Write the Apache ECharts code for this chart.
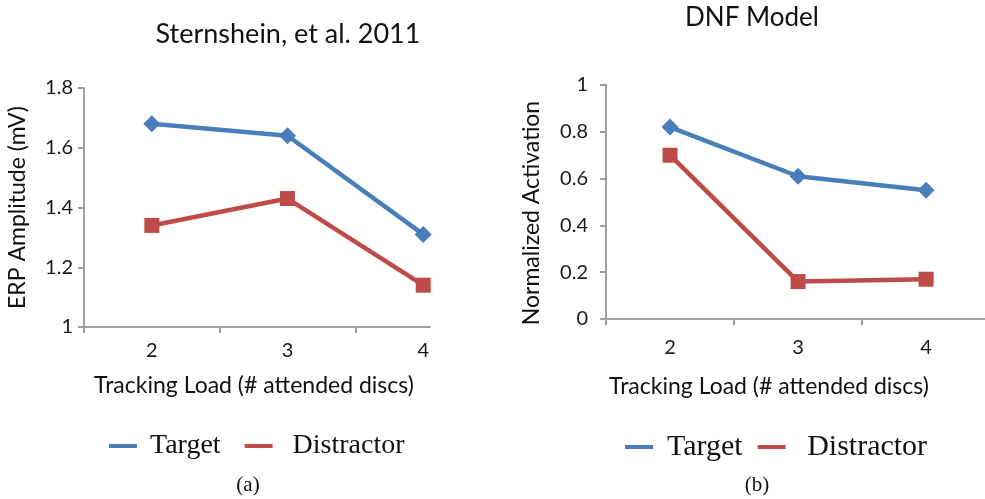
<!DOCTYPE html>
<html>
<head>
<meta charset="utf-8">
<script src="https://cdn.jsdelivr.net/npm/echarts@6/dist/echarts.min.js"></script>
<style>
html,body{margin:0;padding:0;background:#fff;}
#chart{width:985px;height:499px;}
</style>
</head>
<body>
<div id="chart"></div>
<script>
// ---- data ----
var loads = [2, 3, 4];
var ernTarget = [1.68, 1.64, 1.31];
var ernDistractor = [1.34, 1.43, 1.14];
var dnfTarget = [0.82, 0.61, 0.55];
var dnfDistractor = [0.70, 0.16, 0.17];
var seriesNames = ['Target', 'Distractor'];
var titleA = 'Sternshein, et al. 2011';
var titleB = 'DNF Model';
var yNameA = 'ERP Amplitude (mV)';
var yNameB = 'Normalized Activation';
var xName = 'Tracking Load (# attended discs)';
var captions = ['(a)', '(b)'];

var BLUE = '#4A7EBB', RED = '#BE4B48', AXIS = '#A0A0A0';
var SANS = 'Lato, "Open Sans", sans-serif';
var SERIF = '"Liberation Serif", "DejaVu Serif", serif';

function pairs(xs, ys) { return xs.map(function (x, i) { return [x, ys[i]]; }); }

function xAxisFor(gridIndex, max, margin) {
  return {
    type: 'value', gridIndex: gridIndex, min: 1.5, max: max,
    splitLine: { show: false },
    axisLine: { show: true, lineStyle: { color: AXIS, width: 2 } },
    axisTick: { show: true, customValues: [1.5, 2.5, 3.5], length: 6, lineStyle: { color: AXIS, width: 2 } },
    axisLabel: { customValues: loads, margin: margin, fontFamily: SANS, fontSize: 20, color: '#1a1a1a' }
  };
}
function yAxisFor(gridIndex, min, max, name, gap, margin, pad) {
  return {
    type: 'value', gridIndex: gridIndex, min: min, max: max, interval: 0.2,
    name: name, nameLocation: 'middle', nameGap: gap,
    nameTextStyle: { fontFamily: SANS, fontSize: 23, color: '#111', padding: pad },
    splitLine: { show: false },
    axisLine: { show: true, lineStyle: { color: AXIS, width: 2 } },
    axisTick: { show: true, length: 6, lineStyle: { color: AXIS, width: 2 } },
    axisLabel: { margin: margin, fontFamily: SANS, fontSize: 20, color: '#1a1a1a',
      formatter: function (v) { return String(Math.round(v * 10) / 10); } }
  };
}
function lineSeries(name, idx, data, color, symbol, size) {
  return {
    name: name, type: 'line', xAxisIndex: idx, yAxisIndex: idx,
    data: data, symbol: symbol, symbolSize: size, showSymbol: true,
    lineStyle: { color: color, width: 4.5 },
    itemStyle: { color: color },
    animation: false, z: symbol === 'rect' ? 3 : 2
  };
}
function legendAt(left, size, gap, lead, textPad) {
  return {
    data: seriesNames, left: left, top: 427, orient: 'horizontal',
    icon: 'rect', itemWidth: 28, itemHeight: 4, itemGap: gap,
    selectedMode: false,
    formatter: function (n) { return n === 'Distractor' ? lead + n : n; },
    textStyle: { fontFamily: SERIF, fontSize: size, color: '#111', padding: [0, 0, 0, textPad] }
  };
}

var chart = echarts.init(document.getElementById('chart'), null, { renderer: 'canvas' });
chart.setOption({
  backgroundColor: '#fff',
  animation: false,
  grid: [
    { left: 84, top: 88, right: 555, bottom: 172, containLabel: false },
    { left: 606, top: 85, right: 0, bottom: 180, containLabel: false }
  ],
  xAxis: [xAxisFor(0, 4.05, 14), xAxisFor(1, 4.46, 19)],
  yAxis: [yAxisFor(0, 1, 1.8, yNameA, 55, 11, 0), yAxisFor(1, 0, 1, yNameB, 63, 18, [0, 22, 0, 0])],
  legend: [legendAt(104, 28, 24, ' ', 8), legendAt(620, 30, 15, ' ', 9)],
  series: [
    lineSeries(seriesNames[0], 0, pairs(loads, ernTarget), BLUE, 'diamond', 17),
    lineSeries(seriesNames[1], 0, pairs(loads, ernDistractor), RED, 'rect', 15),
    lineSeries(seriesNames[0], 1, pairs(loads, dnfTarget), BLUE, 'diamond', 17),
    lineSeries(seriesNames[1], 1, pairs(loads, dnfDistractor), RED, 'rect', 15)
  ],
  graphic: [
    { type: 'text', x: 288, y: 34, style: { text: titleA, fontFamily: SANS, fontSize: 27, fill: '#111', align: 'center', verticalAlign: 'middle' } },
    { type: 'text', x: 752, y: 18, style: { text: titleB, fontFamily: SANS, fontSize: 26, fill: '#111', align: 'center', verticalAlign: 'middle' } },
    { type: 'text', x: 254, y: 386, style: { text: xName, fontFamily: SANS, fontSize: 23, fill: '#111', align: 'center', verticalAlign: 'middle' } },
    { type: 'text', x: 769, y: 387, style: { text: xName, fontFamily: SANS, fontSize: 23, fill: '#111', align: 'center', verticalAlign: 'middle' } },
    { type: 'text', x: 248, y: 485, style: { text: captions[0], fontFamily: SERIF, fontSize: 21, fill: '#111', align: 'center', verticalAlign: 'middle' } },
    { type: 'text', x: 757, y: 485, style: { text: captions[1], fontFamily: SERIF, fontSize: 21, fill: '#111', align: 'center', verticalAlign: 'middle' } }
  ]
});
</script>
</body>
</html>
